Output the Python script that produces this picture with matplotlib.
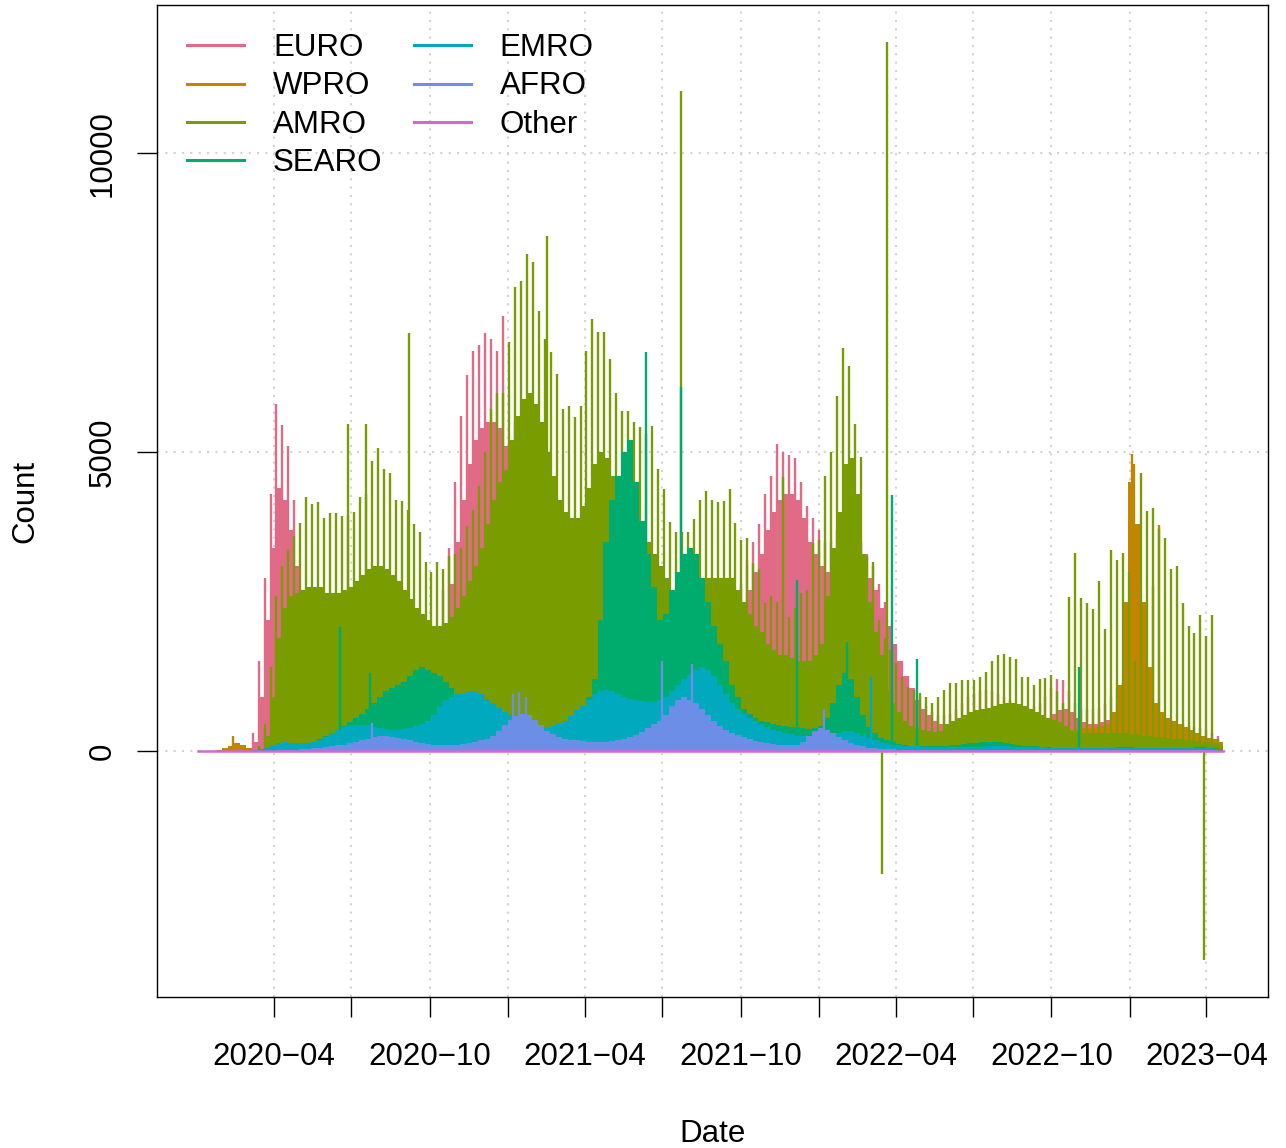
import numpy as np
import matplotlib
matplotlib.use("Agg")
import matplotlib.pyplot as plt
import matplotlib.dates as mdates
from matplotlib.lines import Line2D

plt.rcParams['font.family'] = ['Liberation Sans', 'DejaVu Sans']

# ---------------- data (weekly, first week starting 2020-01-03) ----------------
FIRST_WEEK = "2020-01-03"
LAST_DAY = "2023-04-25"
REGIONS = ["EURO", "WPRO", "AMRO", "SEARO", "EMRO", "AFRO", "Other"]

EURO_BASE = [
    0, 0, 0, 0, 0, 0, 0, 0, 20, 150,
    900, 2200, 3400, 4400, 4200, 3700, 3100, 2500, 2000, 1500,
    1100, 850, 700, 600, 550, 500, 450, 420, 420, 420,
    430, 450, 480, 520, 580, 650, 750, 850, 1000, 1200,
    1500, 2000, 2800, 3500, 4200, 4800, 5200, 5400, 5500, 5500,
    5400, 5100, 4900, 5000, 5000, 4800, 4500, 4200, 3900, 3600,
    3400, 3300, 3300, 3400, 3500, 3500, 3400, 3200, 2900, 2500,
    2100, 1800, 1500, 1300, 1100, 1000, 900, 850, 800, 850,
    950, 1050, 1150, 1200, 1250, 1300, 1350, 1400, 1500, 1700,
    1900, 2300, 2700, 3000, 3300, 3700, 4000, 4200, 4300, 4300,
    4200, 3900, 3500, 3300, 3100, 3000, 3000, 3200, 3300, 3300,
    3200, 3000, 2900, 2700, 2400, 2100, 1800, 1500, 1250, 1050,
    850, 700, 600, 500, 450, 450, 450, 500, 550, 600,
    650, 700, 700, 700, 680, 650, 600, 560, 520, 500,
    500, 520, 560, 620, 680, 700, 650, 550, 480, 450,
    450, 480, 520, 600, 700, 800, 750, 600, 450, 380,
    350, 320, 300, 290, 280, 270, 260, 250, 230, 200,
    180, 150]
EURO_PEAK = [
    0, 0, 0, 0, 0, 0, 0, 0, 40, 300,
    1500, 2900, 4300, 5800, 5450, 5100, 4200, 2700, 2200, 1800,
    1500, 1100, 900, 800, 700, 650, 600, 550, 550, 560,
    560, 600, 620, 680, 750, 850, 950, 1100, 1300, 1600,
    2000, 2700, 3400, 4500, 5600, 6300, 6700, 6800, 7000, 6900,
    6700, 7280, 5100, 5500, 5600, 5500, 5300, 5000, 4500, 4200,
    3900, 3800, 3700, 3800, 3900, 4000, 3900, 3700, 3400, 2900,
    2500, 2100, 1800, 1500, 1300, 1200, 1100, 1000, 950, 1000,
    1100, 1250, 1350, 1400, 1450, 1500, 1600, 1650, 1750, 2000,
    2300, 2800, 3200, 3500, 3800, 4300, 4600, 5135, 5000, 4950,
    4900, 4500, 4100, 3900, 3700, 3500, 3500, 3700, 3800, 3800,
    3700, 3500, 3300, 3100, 2800, 2500, 2100, 1800, 1500, 1250,
    1050, 900, 750, 650, 600, 600, 620, 700, 800, 900,
    950, 1000, 1020, 1000, 950, 900, 850, 800, 750, 720,
    750, 800, 900, 1050, 1200, 1190, 1000, 800, 700, 680,
    700, 720, 780, 900, 1050, 1150, 1050, 850, 650, 550,
    520, 500, 480, 470, 460, 450, 430, 400, 380, 350,
    300, 250]
WPRO_BASE = [
    0, 0, 5, 20, 50, 90, 130, 110, 50, 25,
    15, 20, 30, 40, 45, 45, 40, 35, 30, 25,
    25, 25, 25, 30, 35, 40, 50, 60, 80, 100,
    110, 120, 120, 110, 100, 90, 80, 70, 60, 60,
    60, 60, 70, 80, 90, 100, 110, 120, 130, 140,
    150, 160, 170, 170, 160, 140, 120, 100, 90, 80,
    80, 80, 90, 100, 110, 120, 140, 160, 170, 180,
    190, 200, 200, 190, 180, 180, 190, 220, 260, 300,
    330, 360, 380, 380, 370, 350, 320, 280, 240, 210,
    180, 160, 140, 120, 110, 100, 100, 100, 100, 100,
    100, 100, 100, 100, 110, 130, 160, 200, 250, 300,
    350, 400, 420, 400, 360, 320, 280, 250, 220, 200,
    180, 160, 140, 120, 110, 100, 100, 110, 130, 160,
    200, 250, 300, 330, 340, 330, 300, 270, 240, 220,
    220, 240, 270, 300, 330, 350, 360, 370, 380, 390,
    400, 420, 450, 650, 1100, 2500, 4500, 3800, 2500, 1400,
    800, 650, 550, 500, 450, 400, 350, 300, 250, 220,
    200, 150]
AMRO_BASE = [
    0, 0, 0, 0, 0, 0, 0, 0, 0, 5,
    30, 250, 900, 1900, 2400, 2600, 2650, 2700, 2750, 2750,
    2750, 2650, 2650, 2650, 2700, 2750, 2850, 2950, 3050, 3100,
    3100, 3050, 2950, 2850, 2700, 2550, 2400, 2300, 2200, 2100,
    2100, 2150, 2250, 2400, 2600, 2850, 3100, 3400, 3800, 4200,
    4500, 4700, 5200, 5600, 5900, 6000, 5800, 5500, 5000, 4600,
    4200, 4000, 3900, 3900, 4100, 4400, 4800, 5000, 4900, 4600,
    4300, 4100, 3900, 3800, 3600, 3500, 3300, 3100, 2900, 2700,
    2600, 2600, 2600, 2700, 2800, 2900, 2900, 2900, 2900, 2900,
    2700, 2500, 2300, 2100, 2000, 1800, 1700, 1600, 1600, 1550,
    1500, 1500, 1500, 1600, 1800, 2600, 3400, 4000, 4800, 4900,
    4300, 3300, 2500, 2000, 1600, 1000, 800, 650, 500, 420,
    380, 350, 330, 320, 330, 450, 500, 550, 600, 650,
    680, 700, 720, 750, 780, 800, 800, 780, 750, 700,
    650, 600, 550, 520, 480, 420, 330, 320, 310, 300,
    300, 300, 300, 300, 300, 300, 280, 280, 260, 250,
    240, 230, 220, 210, 200, 190, 180, 170, 160, 150,
    130, 100]
AMRO_PEAK = [
    0, 0, 0, 0, 0, 0, 0, 0, 0, 10,
    80, 450, 1400, 2600, 3100, 3370, 3600, 3820, 4250, 4130,
    4170, 3900, 3990, 3990, 3930, 3950, 4000, 4250, 4300, 4850,
    5080, 4720, 4660, 4210, 4180, 4040, 3800, 3660, 3170, 3000,
    3170, 3040, 3260, 3300, 3400, 3760, 4040, 4430, 5000, 5720,
    6000, 6000, 6850, 7770, 7870, 8320, 8190, 7370, 6900, 6680,
    6310, 5720, 5770, 5590, 5770, 6700, 7230, 7010, 7010, 6560,
    6000, 5690, 5690, 5500, 5420, 5300, 5440, 4720, 4380, 3840,
    3670, 3660, 3660, 3880, 4210, 4360, 4200, 4160, 4180, 4380,
    3820, 3540, 3570, 3150, 3040, 2480, 2600, 2500, 4580, 2250,
    2400, 2650, 2700, 3490, 3540, 4600, 5000, 5940, 6750, 6440,
    5470, 4920, 3260, 3170, 2200, 1900, 1700, 1480, 1240, 1070,
    1020, 970, 900, 800, 900, 1020, 1140, 1140, 1190, 1190,
    1190, 1240, 1330, 1500, 1610, 1630, 1580, 1540, 1240, 1240,
    1110, 1210, 1220, 1280, 1000, 800, 2580, 3320, 2570, 2480,
    2370, 2840, 2050, 3360, 3190, 3320, 3000, 1500, 4650, 4010,
    4060, 3720, 3560, 3050, 3090, 2470, 2100, 1980, 2280, 1930,
    2280, 200]
SEARO_BASE = [
    0, 0, 0, 0, 0, 0, 0, 0, 0, 0,
    2, 5, 15, 30, 50, 60, 80, 100, 130, 160,
    200, 250, 300, 350, 420, 480, 550, 620, 700, 800,
    900, 1000, 1050, 1100, 1150, 1250, 1350, 1400, 1350, 1300,
    1250, 1150, 1050, 950, 850, 800, 750, 700, 650, 600,
    550, 500, 450, 420, 400, 380, 350, 330, 320, 330,
    350, 380, 420, 500, 650, 900, 1200, 2200, 3500, 4200,
    4600, 5000, 5200, 4500, 3850, 3300, 2750, 2200, 2300, 2700,
    3000, 3300, 3400, 3300, 2900, 2500, 2100, 1800, 1500, 1100,
    900, 700, 620, 550, 500, 480, 450, 430, 420, 400,
    400, 380, 370, 380, 420, 550, 800, 1100, 1300, 1200,
    900, 600, 400, 300, 220, 180, 150, 120, 100, 90,
    80, 80, 80, 80, 80, 90, 100, 110, 120, 130,
    140, 150, 160, 160, 150, 140, 120, 100, 90, 80,
    80, 70, 70, 60, 60, 60, 60, 60, 50, 50,
    50, 50, 50, 60, 70, 70, 70, 60, 50, 50,
    50, 50, 50, 50, 50, 50, 60, 70, 70, 60,
    50, 40]
EMRO_BASE = [
    0, 0, 0, 0, 0, 0, 0, 0, 2, 10,
    30, 60, 110, 140, 150, 140, 130, 130, 140, 160,
    190, 240, 300, 360, 400, 430, 440, 440, 430, 410,
    390, 370, 360, 360, 370, 390, 420, 460, 500, 600,
    750, 850, 900, 950, 950, 1000, 1000, 950, 880, 800,
    720, 650, 600, 560, 480, 450, 420, 400, 400, 420,
    450, 500, 580, 680, 750, 850, 950, 1000, 1020, 1000,
    950, 900, 870, 850, 830, 820, 820, 850, 900, 1000,
    1100, 1200, 1280, 1350, 1400, 1350, 1250, 1100, 950, 800,
    700, 620, 560, 500, 450, 400, 360, 330, 300, 280,
    260, 250, 240, 230, 230, 240, 260, 300, 330, 330,
    300, 260, 220, 180, 150, 130, 110, 100, 90, 80,
    80, 70, 70, 70, 70, 70, 70, 70, 70, 70,
    70, 70, 80, 80, 80, 80, 70, 70, 70, 70,
    70, 70, 60, 60, 60, 60, 60, 60, 60, 60,
    60, 60, 60, 60, 60, 60, 60, 60, 60, 60,
    50, 50, 50, 50, 50, 50, 50, 50, 50, 50,
    40, 30]
AFRO_BASE = [
    0, 0, 0, 0, 0, 0, 0, 0, 0, 0,
    1, 2, 5, 10, 15, 20, 25, 30, 35, 45,
    55, 65, 80, 95, 110, 130, 150, 180, 210, 240,
    250, 250, 240, 220, 200, 180, 160, 140, 120, 110,
    100, 100, 100, 110, 120, 140, 160, 180, 200, 250,
    330, 430, 520, 580, 620, 600, 520, 440, 330, 280,
    240, 210, 190, 180, 170, 160, 160, 160, 160, 170,
    180, 200, 230, 270, 320, 380, 450, 500, 600, 750,
    850, 900, 850, 800, 700, 600, 500, 420, 360, 310,
    270, 230, 200, 170, 150, 130, 120, 110, 100, 100,
    110, 150, 250, 330, 380, 360, 300, 230, 180, 130,
    100, 80, 60, 50, 40, 35, 30, 25, 25, 25,
    20, 20, 20, 20, 20, 20, 20, 20, 20, 20,
    20, 20, 20, 20, 20, 15, 15, 15, 15, 15,
    15, 15, 15, 15, 15, 15, 15, 15, 15, 15,
    15, 15, 15, 15, 15, 15, 15, 15, 10, 10,
    10, 10, 10, 10, 10, 10, 10, 10, 10, 10,
    10, 5]
OTHER_BASE = [
    0, 0, 0, 0, 0, 1, 2, 1, 1, 0,
    0, 0, 0, 0, 0, 0, 0, 0, 0, 0,
    0, 0, 0, 0, 0, 0, 0, 0, 0, 0,
    0, 0, 0, 0, 0, 0, 0, 0, 0, 0,
    0, 0, 0, 0, 0, 0, 0, 0, 0, 0,
    0, 0, 0, 0, 0, 0, 0, 0, 0, 0,
    0, 0, 0, 0, 0, 0, 0, 0, 0, 0,
    0, 0, 0, 0, 0, 0, 0, 0, 0, 0,
    0, 0, 0, 0, 0, 0, 0, 0, 0, 0,
    0, 0, 0, 0, 0, 0, 0, 0, 0, 0,
    0, 0, 0, 0, 0, 0, 0, 0, 0, 0,
    0, 0, 0, 0, 0, 0, 0, 0, 0, 0,
    0, 0, 0, 0, 0, 0, 0, 0, 0, 0,
    0, 0, 0, 0, 0, 0, 0, 0, 0, 0,
    0, 0, 0, 0, 0, 0, 0, 0, 0, 0,
    0, 0, 0, 0, 0, 0, 0, 0, 0, 0,
    0, 0, 0, 0, 0, 0, 0, 0, 0, 0,
    0, 0]

# single-day outliers (date, value)
WPRO_SPIKE_DATES = ["2020-02-13", "2023-01-03", "2023-01-05", "2023-01-28", "2023-02-04"]
WPRO_SPIKE_VALUES = [250, 4970, 4800, 2750, 3790]
AMRO_SPIKE_DATES = ["2020-06-27", "2020-07-18", "2020-09-06", "2021-02-15", "2021-07-22",
                    "2022-03-16", "2022-03-22", "2023-03-29"]
AMRO_SPIKE_VALUES = [5470, 5470, 7000, 8620, 11050, -2050, 11870, -3500]
SEARO_SPIKE_DATES = ["2020-06-17", "2020-07-22", "2021-06-11", "2021-07-22", "2021-12-06",
                     "2022-02-03", "2022-03-27", "2022-04-26", "2022-11-02"]
SEARO_SPIKE_VALUES = [2080, 1310, 6680, 6090, 2870, 1830, 4280, 1540, 1410]
EMRO_SPIKE_DATES = ["2022-03-03"]
EMRO_SPIKE_VALUES = [1240]
AFRO_SPIKE_DATES = ["2020-07-25", "2021-01-06", "2021-01-13", "2021-01-21", "2021-06-30",
                    "2021-08-05", "2022-01-07"]
AFRO_SPIKE_VALUES = [470, 950, 990, 900, 1500, 1450, 700]

TICK_DATES = ["2020-04-01", "2020-07-01", "2020-10-01", "2021-01-01", "2021-04-01",
              "2021-07-01", "2021-10-01", "2022-01-01", "2022-04-01", "2022-07-01",
              "2022-10-01", "2023-01-01", "2023-04-01"]
TICK_LABELS = ["2020\u221204", "", "2020\u221210", "", "2021\u221204", "", "2021\u221210", "",
               "2022\u221204", "", "2022\u221210", "", "2023\u221204"]
Y_TICKS = [0, 5000, 10000]

# ---------------- colours (R hcl, c=80, l=60) ----------------
def hcl(h, c, l):
    Xn, Yn, Zn = 95.047, 100.0, 108.883
    U = c * np.cos(np.radians(h)); V = c * np.sin(np.radians(h))
    Y = Yn * (((l + 16) / 116) ** 3 if l > 8 else l / 903.3)
    den = Xn + 15 * Yn + 3 * Zn
    un, vn = 4 * Xn / den, 9 * Yn / den
    u = U / (13 * l) + un; v = V / (13 * l) + vn
    X = 9.0 * Y * u / (4 * v); Z = -X / 3 - 5 * Y + 3 * Y / v
    M = np.array([[3.2404542, -1.5371385, -0.4985314],
                  [-0.9692660, 1.8760108, 0.0415560],
                  [0.0556434, -0.2040259, 1.0572252]])
    rgb = M @ (np.array([X, Y, Z]) / 100)
    out = []
    for t in rgb:
        t = 12.92 * t if t <= 0.0031308 else 1.055 * t ** (1 / 2.4) - 0.055
        out.append(min(max(t, 0), 1))
    return tuple(out)

COLORS = {r: hcl(360 * i / 7, 80, 60) for i, r in enumerate(REGIONS)}

# ---------------- figure ----------------
fig = plt.figure(figsize=(12.86, 11.48), dpi=100)
ax = fig.add_axes([157 / 1286, 1 - 997 / 1148, (1268 - 157) / 1286, (997 - 5) / 1148])

n = len(EURO_BASE)
for arr in (EURO_PEAK, WPRO_BASE, AMRO_BASE, AMRO_PEAK, SEARO_BASE, EMRO_BASE, AFRO_BASE, OTHER_BASE):
    assert len(arr) == n, len(arr)
week0 = np.datetime64(FIRST_WEEK)
weeks = week0 + np.arange(n) * np.timedelta64(7, 'D')
xw = mdates.date2num(weeks)

def dnum(lst):
    return mdates.date2num(np.array(lst, dtype='datetime64[D]'))

LW = 1.7

def bars(vals, color):
    ax.bar(xw, vals, width=7, align='edge', color=color, linewidth=0, zorder=2)

def peaks(vals, color, offset=1.0):
    ax.vlines(xw + offset, 0, vals, colors=[color], linewidth=LW, zorder=2)

def spikes(dates, vals, color):
    ax.vlines(dnum(dates) + 0.5, 0, vals, colors=[color], linewidth=LW, zorder=2)

bars(EURO_BASE, COLORS["EURO"]); peaks(EURO_PEAK, COLORS["EURO"])
bars(WPRO_BASE, COLORS["WPRO"]); spikes(WPRO_SPIKE_DATES, WPRO_SPIKE_VALUES, COLORS["WPRO"])
bars(AMRO_BASE, COLORS["AMRO"]); peaks(AMRO_PEAK, COLORS["AMRO"])
spikes(AMRO_SPIKE_DATES, AMRO_SPIKE_VALUES, COLORS["AMRO"])
bars(SEARO_BASE, COLORS["SEARO"]); spikes(SEARO_SPIKE_DATES, SEARO_SPIKE_VALUES, COLORS["SEARO"])
bars(EMRO_BASE, COLORS["EMRO"]); spikes(EMRO_SPIKE_DATES, EMRO_SPIKE_VALUES, COLORS["EMRO"])
bars(AFRO_BASE, COLORS["AFRO"]); spikes(AFRO_SPIKE_DATES, AFRO_SPIKE_VALUES, COLORS["AFRO"])
ax.step(np.append(xw, xw[-1] + 7), np.append(OTHER_BASE, OTHER_BASE[-1]), where='post',
        color=COLORS["Other"], linewidth=1.8, zorder=3)

# limits (R style 4% expansion)
x0, x1 = xw[0], dnum([LAST_DAY])[0]
sx = x1 - x0
ax.set_xlim(x0 - 0.04 * sx, x1 + 0.04 * sx)
ymax = max(max(AMRO_PEAK), max(AMRO_SPIKE_VALUES), max(SEARO_SPIKE_VALUES))
ymin = min(AMRO_SPIKE_VALUES)
sy = ymax - ymin
ax.set_ylim(ymin - 0.04 * sy, ymax + 0.04 * sy)

ax.set_xticks(dnum(TICK_DATES))
ax.set_xticklabels(TICK_LABELS)
ax.set_yticks(Y_TICKS)
ax.set_yticklabels([str(v) for v in Y_TICKS], rotation=90, va='center')

FS = 22.5
ax.tick_params(axis='both', direction='out', length=14.4, width=1.0, labelsize=FS, colors='black')
ax.tick_params(axis='x', pad=18)
ax.tick_params(axis='y', pad=14)
for s in ax.spines.values():
    s.set_linewidth(1.0)
    s.set_color('black')

ax.grid(True, color='#D3D3D3', linestyle=(0, (1, 3)), linewidth=1.5)
ax.set_axisbelow(True)

ax.set_xlabel("Date", fontsize=FS, labelpad=34)
ax.set_ylabel("Count", fontsize=FS, labelpad=34)

handles = [Line2D([], [], color=COLORS[r], linewidth=2.2) for r in REGIONS]
ax_w = 1268 - 157; ax_h = 997 - 5
leg = ax.legend(handles, REGIONS, loc='upper left', ncol=2, frameon=False, fontsize=FS,
                bbox_to_anchor=((187 - 157) / ax_w, (997 - 33) / ax_h),
                borderaxespad=0, borderpad=0, handlelength=1.82, handletextpad=0.93,
                columnspacing=1.0, labelspacing=0.27)

fig.savefig("out.png", dpi=100)
